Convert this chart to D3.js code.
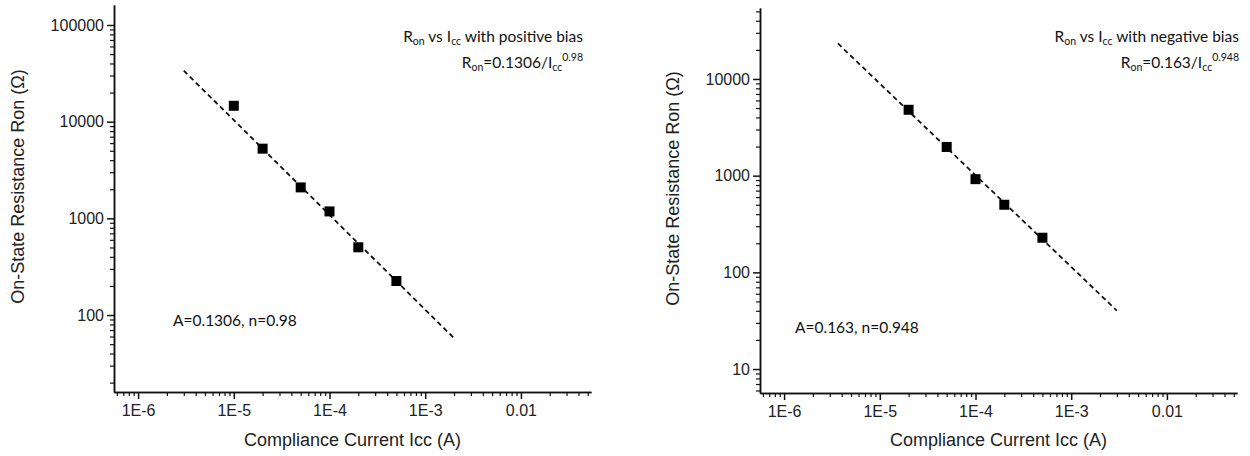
<!DOCTYPE html>
<html>
<head>
<meta charset="utf-8">
<script src="https://cdn.jsdelivr.net/npm/d3@7"></script>
<style>
body { margin: 0; background: #fff; }
svg { display: block; }
.axis text { font-family: "Liberation Sans", Arial, sans-serif; font-size: 16px; fill: #222; }
.axis path, .axis line { stroke: #111; stroke-width: 1.5px; }
.minor line { stroke-width: 1.2px; }
.title { font-family: "Liberation Sans", Arial, sans-serif; font-size: 18px; fill: #222; }
.note { font-family: Lato, "Open Sans", sans-serif; font-size: 15.5px; fill: #111; }
</style>
</head>
<body>
<svg id="chart" width="1250" height="456"></svg>
<script>
// tick labels (shared by both panels)
var xTicks = [1e-6, 1e-5, 1e-4, 1e-3, 1e-2]
var xTickLabels = ['1E-6', '1E-5', '1E-4', '1E-3', '0.01']

// positive bias
var posCurrent = [1e-5, 2e-5, 5e-5, 1e-4, 2e-4, 5e-4]
var posRon = [14600, 5260, 2090, 1180, 502, 225]
var posFitA = 0.1306, posFitN = 0.98
var posFitRange = [3e-6, 2e-3]
var posYTicks = [100, 1000, 10000, 100000]

// negative bias
var negCurrent = [2e-5, 5e-5, 1e-4, 2e-4, 5e-4]
var negRon = [4800, 1980, 920, 500, 228]
var negFitA = 0.163, negFitN = 0.948
var negFitRange = [3.65e-6, 3e-3]
var negYTicks = [10, 100, 1000, 10000]

var svg = d3.select('#chart')

function minorTicks(domain) {
    var out = []
    var lo = Math.floor(Math.log10(domain[0])), hi = Math.ceil(Math.log10(domain[1]))
    for (var e = lo; e <= hi; e++) {
        for (var k = 2; k <= 9; k++) {
            var v = k * Math.pow(10, e)
            if (v >= domain[0] && v <= domain[1]) out.push(v)
        }
    }
    return out
}

function drawPanel(p) {
    var x = d3.scaleLog().domain([5.6e-7, 0.054]).range([p.left, p.right])
    var y = d3.scaleLog().domain(p.yDomain).range([p.bottom, p.top])
    var g = svg.append('g')

    // minor ticks first so the axis line sits on top
    g.append('g').attr('class', 'axis minor')
        .attr('transform', `translate(0,${p.bottom})`)
        .call(d3.axisBottom(x).tickValues(minorTicks(x.domain())).tickSize(4).tickSizeOuter(0).tickFormat(''))
    g.append('g').attr('class', 'axis minor')
        .attr('transform', `translate(${p.left},0)`)
        .call(d3.axisLeft(y).tickValues(minorTicks(y.domain())).tickSize(4).tickSizeOuter(0).tickFormat(''))

    g.append('g').attr('class', 'axis')
        .attr('transform', `translate(0,${p.bottom})`)
        .call(d3.axisBottom(x).tickValues(xTicks).tickSize(7).tickSizeOuter(0).tickPadding(6)
            .tickFormat(function (d, i) { return xTickLabels[i] }))
    g.append('g').attr('class', 'axis')
        .attr('transform', `translate(${p.left},0)`)
        .call(d3.axisLeft(y).tickValues(p.yTicks).tickSize(7).tickSizeOuter(0).tickPadding(3)
            .tickFormat(d3.format('d')))

    // axis titles
    g.append('text').attr('class', 'title')
        .attr('x', (p.left + p.right) / 2).attr('y', 446)
        .attr('text-anchor', 'middle')
        .text('Compliance Current Icc (A)')
    g.append('text').attr('class', 'title')
        .attr('transform', `translate(${p.yTitleX},${(p.top + p.bottom) / 2 - 12}) rotate(-90)`)
        .attr('text-anchor', 'middle')
        .text(p.yTitle)

    // fit line
    var fit = p.fitRange.map(function (c) { return [c, p.fitA / Math.pow(c, p.fitN)] })
    g.append('path')
        .attr('d', d3.line().x(function (d) { return x(d[0]) }).y(function (d) { return y(d[1]) })(fit))
        .attr('fill', 'none')
        .attr('stroke', '#111')
        .attr('stroke-width', 1.8)
        .attr('stroke-dasharray', '5,3.5')

    // data points
    g.selectAll('.pt')
        .data(p.current)
        .join('rect')
        .attr('class', 'pt')
        .attr('x', function (d) { return x(d) - 5 })
        .attr('y', function (d, i) { return y(p.ron[i]) - 5 })
        .attr('width', 10).attr('height', 10)
        .attr('fill', '#000')

    // annotations
    var t1 = g.append('text').attr('class', 'note')
        .attr('x', p.right + p.noteShift).attr('y', 42).attr('text-anchor', 'end')
    t1.append('tspan').text('R')
    t1.append('tspan').attr('font-size', 10.5).attr('dy', 3).text('on')
    t1.append('tspan').attr('dy', -3).text(' vs I')
    t1.append('tspan').attr('font-size', 10.5).attr('dy', 3).text('cc')
    t1.append('tspan').attr('dy', -3).text(' with ' + p.biasWord + ' bias')

    var t2 = g.append('text').attr('class', 'note')
        .attr('x', p.right + p.noteShift).attr('y', 68).attr('text-anchor', 'end')
    t2.append('tspan').text('R')
    t2.append('tspan').attr('font-size', 10.5).attr('dy', 3).text('on')
    t2.append('tspan').attr('dy', -3).text('=' + p.fitA + '/I')
    t2.append('tspan').attr('font-size', 10.5).attr('dy', 3).text('cc')
    t2.append('tspan').attr('font-size', 10.5).attr('dy', -10).text(p.fitN)

    g.append('text').attr('class', 'note')
        .attr('x', p.left + p.noteAX).attr('y', p.noteAY)
        .text('A=' + p.fitA + ', n=' + p.fitN)
}

drawPanel({
    left: 114, right: 591, top: 5, bottom: 392,
    yDomain: [16, 161000], yTicks: posYTicks,
    current: posCurrent, ron: posRon,
    fitA: posFitA, fitN: posFitN, fitRange: posFitRange,
    yTitle: 'On-State Resistance Ron  (\u03A9)', yTitleX: 24,
    biasWord: 'positive', noteShift: -8,
    noteAX: 59, noteAY: 326
})

drawPanel({
    left: 760, right: 1237, top: 8, bottom: 393,
    yDomain: [5.65, 54200], yTicks: negYTicks,
    current: negCurrent, ron: negRon,
    fitA: negFitA, fitN: negFitN, fitRange: negFitRange,
    yTitle: 'On-State Resistance Ron (\u03A9)', yTitleX: 679,
    biasWord: 'negative', noteShift: 2,
    noteAX: 35, noteAY: 333
})
</script>
</body>
</html>
